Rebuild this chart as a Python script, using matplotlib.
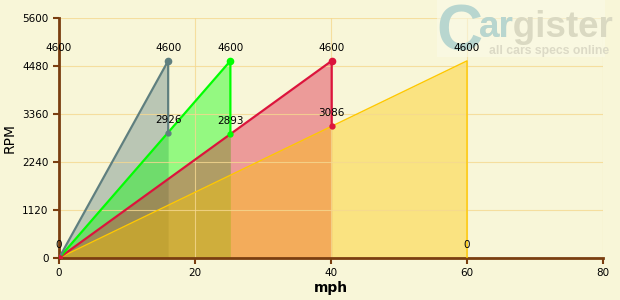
import matplotlib
matplotlib.use("Agg")
import matplotlib.pyplot as plt

# gear chart data: speed (mph) at redline and rpm after shifting
gears = ["1", "2", "3", "4"]
top_speed = [16.05, 25.2, 40.1, 60.0]
redline = [4600, 4600, 4600, 4600]
shift_rpm = [2926, 2893, 3086, 0]
colors = ["#5f7f7f", "#00ff00", "#dc143c", "#ffc800"]
widths = [1.6, 1.6, 1.6, 1.0]

x_ticks = [0, 20, 40, 60, 80]
y_ticks = [0, 1120, 2240, 3360, 4480, 5600]

bg = "#f8f6d8"
brown = "#7a3e10"

fig = plt.figure(figsize=(6.2, 3.0), dpi=100, facecolor=bg)
ax = fig.add_axes([0.0952, 0.14, 0.8774, 0.80], facecolor=bg)

# fills, first gear at the back, top gear in front
for i in range(len(gears)):
    ax.fill_between([0, top_speed[i]], [0, redline[i]], color=colors[i], alpha=0.4, lw=0, zorder=1)

for i in reversed(range(len(gears))):
    xs = [0, top_speed[i], top_speed[i]]
    ys = [0, redline[i], shift_rpm[i]]
    ax.plot(xs, ys, color=colors[i], lw=widths[i], zorder=3)
    if i < 3:
        ax.plot([top_speed[i]], [redline[i]], "o", color=colors[i], ms=4.5, zorder=4)
        ax.plot([top_speed[i]], [shift_rpm[i]], "o", color=colors[i], ms=3.5, zorder=4)
    ax.text(top_speed[i], redline[i] + 180, str(redline[i]), ha="center", va="bottom", fontsize=7.5, zorder=5)
    ax.text(top_speed[i], shift_rpm[i] + 180, str(shift_rpm[i]), ha="center", va="bottom", fontsize=7.5, zorder=5)

ax.plot([0], [0], "o", color="#dc143c", ms=4, zorder=5)
ax.text(0, redline[0] + 180, str(redline[0]), ha="center", va="bottom", fontsize=7.5, zorder=5)
ax.text(0, 180, "0", ha="center", va="bottom", fontsize=7.5, zorder=5)

ax.set_xlim(0, 80)
ax.set_ylim(0, 5600)
ax.set_xticks(x_ticks)
ax.set_yticks(y_ticks)
ax.set_axisbelow("line")
ax.grid(True, color="#f5d890", lw=0.8, alpha=0.8)
for s in ["top", "right"]:
    ax.spines[s].set_visible(False)
for s in ["left", "bottom"]:
    ax.spines[s].set_color(brown)
    ax.spines[s].set_linewidth(2)
ax.tick_params(colors=brown, labelcolor="black", labelsize=7.5, length=4, width=1.5)
ax.set_xlabel("mph", fontsize=10, fontweight="bold", labelpad=2)
ax.set_ylabel("RPM", fontsize=10, labelpad=4)

# watermark (kept under the data labels)
tf = fig.transFigure
ax.add_patch(plt.Rectangle((0.705, 0.81), 0.27, 0.19, transform=tf, clip_on=False,
                           facecolor="#fafae8", alpha=0.6, edgecolor="none", zorder=2.5))
wm = dict(fontweight="bold", family="Liberation Sans", transform=tf, clip_on=False,
          ha="left", va="baseline", zorder=2.6)
ax.text(0.704, 0.833, "C", fontsize=46, color="#b8d6cf", **wm)
ax.text(0.772, 0.877, "argister", fontsize=26.5, color="#dad9c2", **wm)
ax.text(0.772, 0.877, "ar", fontsize=26.5, color="#b8d6cf", **wm)
ax.text(0.789, 0.82, "all cars specs online", fontsize=8.8, color="#dcdac6", **wm)

fig.savefig("out.png", dpi=100, facecolor=bg)
